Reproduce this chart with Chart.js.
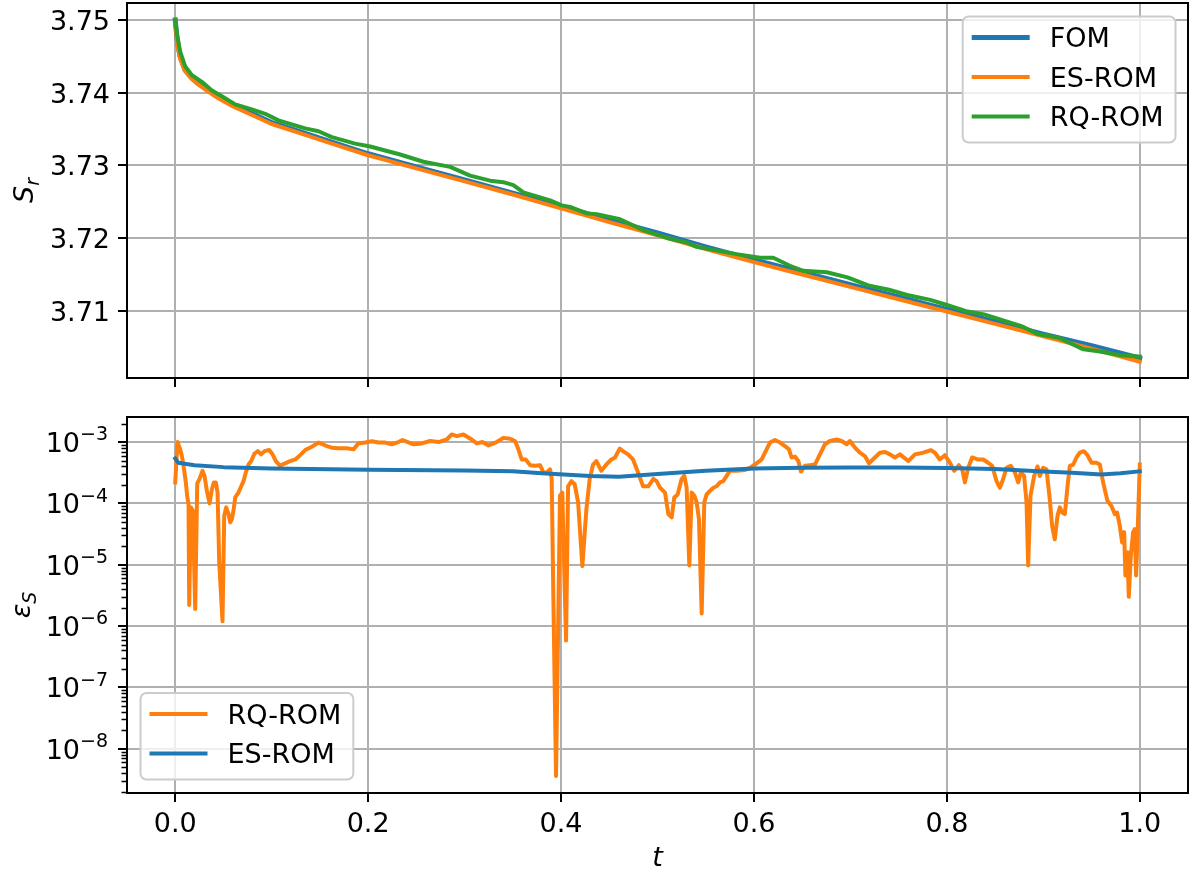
<!DOCTYPE html>
<html>
<head>
<meta charset="utf-8">
<title>Entropy S_r and error</title>
<script src="https://cdn.jsdelivr.net/npm/chart.js@4.4.1/dist/chart.umd.min.js"></script>
<style>
    html, body { margin: 0; padding: 0; background: #fff; }
    #wrap { position: relative; width: 1192px; height: 872px; overflow: hidden; }
    canvas { position: absolute; left: 0; }
    #topChart { top: 0; }
    #bottomChart { top: 400px; }
</style>
</head>
<body>
<div id="wrap">
    <canvas id="topChart" width="1192" height="400"></canvas>
    <canvas id="bottomChart" width="1192" height="472"></canvas>
</div>
<script>
/* ===============================
   DATA
=============================== */
const tTicks = [0, 0.2, 0.4, 0.6, 0.8, 1.0];
const sTicks = [3.71, 3.72, 3.73, 3.74, 3.75];
const errTicks = [1e-8, 1e-7, 1e-6, 1e-5, 1e-4, 1e-3];

// S_r for FOM and ES-ROM (same time samples)
const tRef = [0, 0.002, 0.005, 0.01, 0.017, 0.024, 0.035, 0.045, 0.06, 0.08,
    0.1, 0.13, 0.16, 0.2, 0.25, 0.3, 0.35, 0.4, 0.45, 0.5,
    0.55, 0.6, 0.65, 0.7, 0.75, 0.8, 0.85, 0.9, 0.95, 1.0];
const sFom = [3.7500, 3.7472, 3.7450, 3.7432, 3.7421, 3.7413, 3.7403, 3.7394, 3.7383, 3.7371,
    3.7359, 3.7346, 3.7333, 3.7316, 3.7298, 3.7280, 3.7262, 3.7244, 3.7225, 3.7207,
    3.7188, 3.7170, 3.7153, 3.7136, 3.7119, 3.7102, 3.7085, 3.7068, 3.7052, 3.7035];
const sEs = [3.7499, 3.7467, 3.7447, 3.7430, 3.7419, 3.7411, 3.7401, 3.7392, 3.7381, 3.7369,
    3.7357, 3.7344, 3.7331, 3.7314, 3.7296, 3.7278, 3.7260, 3.7241, 3.7222, 3.7204,
    3.7185, 3.7167, 3.7150, 3.7133, 3.7116, 3.7099, 3.7082, 3.7065, 3.7048, 3.7030];

// S_r for RQ-ROM
const tRq = [0, 0.0017, 0.0052, 0.0104, 0.0173, 0.0276, 0.038, 0.0484, 0.0622, 0.0794,
    0.0933, 0.107, 0.1347, 0.1485, 0.1624, 0.1865, 0.2021, 0.2332, 0.2573, 0.285,
    0.3057, 0.3264, 0.3402, 0.3506, 0.3609, 0.3886, 0.4007, 0.4093, 0.4266, 0.437,
    0.4611, 0.4853, 0.513, 0.5303, 0.5406, 0.582, 0.6062, 0.62, 0.6373, 0.6511,
    0.6755, 0.697, 0.7185, 0.74, 0.7614, 0.7828, 0.8, 0.8215, 0.8386, 0.8773,
    0.8944, 0.9159, 0.9416, 0.9588, 0.9803, 1.0];
const sRq = [3.7500, 3.7482, 3.7456, 3.7436, 3.7424, 3.7415, 3.7403, 3.7395, 3.7384, 3.7377,
    3.7371, 3.7362, 3.7351, 3.7347, 3.7339, 3.7330, 3.7326, 3.7315, 3.7305, 3.7298,
    3.7286, 3.7279, 3.7277, 3.7273, 3.7263, 3.7252, 3.7245, 3.7243, 3.7234, 3.7233,
    3.7226, 3.7211, 3.7199, 3.7194, 3.7188, 3.7178, 3.7173, 3.7173, 3.7162, 3.7155,
    3.7153, 3.7146, 3.7135, 3.7129, 3.7121, 3.7115, 3.7108, 3.7099, 3.7095, 3.7079,
    3.7068, 3.7063, 3.7047, 3.7044, 3.7039, 3.7037];

// error of ES-ROM
const tErrEs = [0, 0.003, 0.02, 0.05, 0.1, 0.2, 0.3, 0.35, 0.38, 0.43,
    0.46, 0.5, 0.55, 0.6, 0.65, 0.7, 0.75, 0.8, 0.85, 0.9,
    0.93, 0.96, 0.98, 1.0];
const errEs = [5.4e-4, 4.6e-4, 4.2e-4, 3.9e-4, 3.7e-4, 3.55e-4, 3.43e-4, 3.35e-4, 3.1e-4, 2.8e-4,
    2.72e-4, 3.0e-4, 3.4e-4, 3.7e-4, 3.8e-4, 3.85e-4, 3.85e-4, 3.77e-4, 3.63e-4, 3.31e-4,
    3.16e-4, 2.97e-4, 3.09e-4, 3.33e-4];

// error of RQ-ROM
const tErrRq = [
    0, 0.0024, 0.0052, 0.0069, 0.0086, 0.011, 0.0124, 0.0138, 0.0145, 0.0162,
    0.0183, 0.0207, 0.0228, 0.0252, 0.0283, 0.0304, 0.0328, 0.0356, 0.038, 0.0401,
    0.0421, 0.0439, 0.0456, 0.049, 0.0508, 0.0528, 0.0553, 0.057, 0.0587, 0.0604,
    0.0622, 0.0656, 0.0684, 0.0708, 0.0732, 0.076, 0.0788, 0.0822, 0.0857, 0.0891,
    0.0926, 0.0974, 0.1009, 0.1043, 0.1088, 0.114, 0.1192, 0.1244, 0.1295, 0.1347,
    0.1416, 0.1485, 0.1527, 0.1572, 0.1623, 0.1693, 0.1779, 0.1848, 0.19, 0.1969,
    0.2038, 0.2107, 0.2176, 0.2245, 0.2314, 0.2356, 0.2411, 0.247, 0.2556, 0.2642,
    0.2729, 0.2815, 0.2867, 0.2919, 0.2988, 0.3074, 0.3126, 0.3185, 0.3247, 0.3333,
    0.3402, 0.3472, 0.3523, 0.3558, 0.3592, 0.3634, 0.3679, 0.3731, 0.3782, 0.3817,
    0.3851, 0.3886, 0.3903, 0.392, 0.3948, 0.3989, 0.4013, 0.4052, 0.4073, 0.4108,
    0.4142, 0.4177, 0.4221, 0.4263, 0.4297, 0.4332, 0.4366, 0.4418, 0.447, 0.4522,
    0.456, 0.4608, 0.4642, 0.4694, 0.4746, 0.4798, 0.485, 0.4905, 0.4957, 0.4991,
    0.5026, 0.5078, 0.5112, 0.5147, 0.5174, 0.5209, 0.525, 0.5278, 0.5302, 0.533,
    0.5354, 0.5382, 0.5406, 0.543, 0.5458, 0.5485, 0.5509, 0.5544, 0.5579, 0.5613,
    0.5648, 0.5682, 0.5717, 0.5751, 0.5821, 0.5907, 0.5959, 0.601, 0.608, 0.6131,
    0.6166, 0.6218, 0.627, 0.6321, 0.6363, 0.639, 0.6425, 0.646, 0.6487, 0.6528,
    0.658, 0.6632, 0.6684, 0.6736, 0.6788, 0.6857, 0.6909, 0.6961, 0.6995, 0.7047,
    0.7098, 0.715, 0.7192, 0.7254, 0.7306, 0.7358, 0.741, 0.7461, 0.7513, 0.76,
    0.7669, 0.7755, 0.7834, 0.7876, 0.7927, 0.7979, 0.8031, 0.8076, 0.8124, 0.8159,
    0.8187, 0.8221, 0.8262, 0.8318, 0.8377, 0.8428, 0.847, 0.8515, 0.8549, 0.8584,
    0.8618, 0.8663, 0.8705, 0.8739, 0.8767, 0.8801, 0.8826, 0.8843, 0.8867, 0.8905,
    0.894, 0.8964, 0.8998, 0.9033, 0.9067, 0.9091, 0.9119, 0.9147, 0.9171, 0.9195,
    0.9223, 0.9251, 0.9275, 0.931, 0.9344, 0.9378, 0.942, 0.9458, 0.95, 0.9551,
    0.9586, 0.962, 0.9665, 0.9706, 0.9741, 0.9765, 0.9793, 0.9817, 0.9838, 0.9851,
    0.9872, 0.9886, 0.9907, 0.9931, 0.9948, 0.9962, 0.998, 1.0];
const errRq = [
    2.2e-4, 1.0e-3, 7.6e-4, 5.9e-4, 4.1e-4, 2.2e-4, 1.3e-4, 9.7e-5, 2.2e-6, 8.6e-5,
    7.6e-5, 1.9e-6, 2.1e-4, 2.5e-4, 3.4e-4, 2.8e-4, 1.6e-4, 1.0e-4, 1.7e-4, 2.2e-4,
    2.2e-4, 1.5e-4, 1.1e-5, 1.2e-6, 6.3e-5, 8.6e-5, 6.7e-5, 4.9e-5, 5.5e-5, 7.6e-5,
    1.25e-4, 1.5e-4, 1.9e-4, 2.3e-4, 3.2e-4, 4.3e-4, 4.9e-4, 6.5e-4, 7.1e-4, 6.3e-4,
    7.1e-4, 7.4e-4, 6.3e-4, 4.9e-4, 4.1e-4, 4.5e-4, 4.9e-4, 5.2e-4, 6.1e-4, 7.4e-4,
    8.4e-4, 9.8e-4, 9.2e-4, 8.6e-4, 8.1e-4, 7.9e-4, 7.9e-4, 7.6e-4, 9.5e-4, 9.8e-4,
    1.03e-3, 9.8e-4, 9.8e-4, 9.2e-4, 1.0e-3, 1.08e-3, 1.0e-3, 9.2e-4, 9.5e-4, 1.04e-3,
    1.0e-3, 1.1e-3, 1.33e-3, 1.25e-3, 1.33e-3, 1.1e-3, 9.5e-4, 1.0e-3, 8.8e-4, 1.0e-3,
    1.17e-3, 1.13e-3, 1.04e-3, 7.6e-4, 5.2e-4, 5.2e-4, 4.2e-4, 4.1e-4, 4.2e-4, 3.2e-4,
    3.2e-4, 3.6e-4, 2.5e-4, 3.2e-6, 3.6e-9, 1.33e-4, 1.5e-4, 5.8e-7, 1.9e-4, 2.3e-4,
    2.05e-4, 1.04e-4, 9.5e-6, 8.1e-5, 2.5e-4, 4.3e-4, 4.9e-4, 3.4e-4, 4.3e-4, 5.2e-4,
    5.6e-4, 7.8e-4, 7.1e-4, 6.3e-4, 5.2e-4, 3.2e-4, 1.9e-4, 1.9e-4, 2.5e-4, 2.3e-4,
    1.8e-4, 1.5e-4, 6.7e-5, 5.9e-5, 1.25e-4, 1.4e-4, 2.5e-4, 2.8e-4, 1.8e-4, 9.7e-6,
    1.5e-4, 1.33e-4, 1.04e-4, 5.5e-5, 1.6e-6, 1.04e-4, 1.4e-4, 1.6e-4, 1.8e-4, 1.9e-4,
    2.2e-4, 2.3e-4, 2.8e-4, 3.4e-4, 3.4e-4, 3.5e-4, 3.8e-4, 4.3e-4, 5.2e-4, 7.6e-4,
    9.8e-4, 1.08e-3, 9.8e-4, 8.6e-4, 7.6e-4, 5.6e-4, 5.8e-4, 4.9e-4, 3.3e-4, 4.1e-4,
    4.2e-4, 4.3e-4, 6.3e-4, 9.2e-4, 1.04e-3, 1.1e-3, 1.04e-3, 9.2e-4, 1.04e-3, 8.1e-4,
    6.7e-4, 5.9e-4, 4.5e-4, 5.6e-4, 6.7e-4, 6.9e-4, 6.3e-4, 5.6e-4, 6.3e-4, 4.9e-4,
    6.3e-4, 6.7e-4, 7.4e-4, 6.7e-4, 5.2e-4, 6.1e-4, 4.6e-4, 3.4e-4, 4.2e-4, 3.6e-4,
    2.2e-4, 3.8e-4, 5.6e-4, 5.2e-4, 5.2e-4, 4.6e-4, 4.1e-4, 2.3e-4, 1.8e-4, 2.5e-4,
    3.8e-4, 4.1e-4, 3.2e-4, 2.2e-4, 3.2e-4, 2.8e-4, 1.04e-4, 9.7e-6, 1.33e-4, 2.8e-4,
    4.0e-4, 2.8e-4, 3.8e-4, 3.6e-4, 1.17e-4, 4.3e-5, 2.6e-5, 6.3e-5, 8.6e-5, 7.1e-5,
    6.7e-5, 1.9e-4, 4.1e-4, 4.3e-4, 5.6e-4, 6.7e-4, 7.1e-4, 6.1e-4, 4.6e-4, 4.6e-4,
    4.3e-4, 2.2e-4, 1.1e-4, 9.1e-5, 6.7e-5, 7.1e-5, 4.3e-5, 2.3e-5, 3.4e-5, 6.7e-6,
    1.6e-5, 3.0e-6, 1.4e-5, 3.4e-5, 3.8e-5, 6.7e-6, 4.3e-5, 4.3e-4];

/* ===============================
   STYLE
=============================== */
const BLUE = "#1f77b4";
const ORANGE = "#ff7f0e";
const GREEN = "#2ca02c";
const FONT = "'DejaVu Sans'";
const FS = 27;
const GRID = "#b0b0b0";

Chart.defaults.font.family = FONT;
Chart.defaults.font.size = FS;
Chart.defaults.color = "#000";

function pairs(xs, ys) {
    return xs.map((x, i) => ({ x: x, y: ys[i] }));
}

function series(label, xs, ys, color, width, order) {
    return {
        label: label,
        data: pairs(xs, ys),
        borderColor: color,
        backgroundColor: color,
        borderWidth: width,
        pointRadius: 0,
        tension: 0,
        fill: false,
        borderCapStyle: "square",
        borderJoinStyle: "round",
        order: order
    };
}

function gridOpts() {
    return { color: GRID, lineWidth: 2, tickLength: 9, tickColor: "#000", tickWidth: 2 };
}

function tAxis(showLabels, height) {
    return {
        type: "linear",
        min: -0.05,
        max: 1.05,
        afterBuildTicks: s => { s.ticks = tTicks.map(v => ({ value: v })); },
        afterFit: s => { s.height = height; },
        ticks: {
            display: showLabels,
            padding: 7,
            maxRotation: 0,
            autoSkip: false,
            callback: v => v.toFixed(1)
        },
        grid: gridOpts(),
        border: { display: false }
    };
}

/* ===============================
   DRAW HELPERS
=============================== */
// pieces of text with size / italic / vertical shift, left to right
function textRun(c, parts, x, y) {
    let cx = x;
    parts.forEach(p => {
        c.font = (p.italic ? "italic " : "") + p.size + "px " + FONT;
        c.fillText(p.text, cx, y + (p.dy || 0));
        cx += c.measureText(p.text).width + (p.gap || 0);
    });
}

function runWidth(c, parts) {
    let w = 0;
    parts.forEach(p => {
        c.font = (p.italic ? "italic " : "") + p.size + "px " + FONT;
        w += c.measureText(p.text).width + (p.gap || 0);
    });
    return w;
}

function drawYTitle(chart, parts, baseX) {
    const c = chart.ctx, a = chart.chartArea;
    c.save();
    c.fillStyle = "#000";
    c.textBaseline = "alphabetic";
    c.translate(baseX, (a.top + a.bottom) / 2);
    c.rotate(-Math.PI / 2);
    textRun(c, parts, -runWidth(c, parts) / 2, 0);
    c.restore();
}

function drawLegend(chart, items, corner) {
    const c = chart.ctx, a = chart.chartArea;
    c.save();
    c.font = FS + "px " + FONT;
    const tw = Math.max(...items.map(it => c.measureText(it.label).width));
    const w = 9 + 58 + 20 + tw + 12;
    const h = 21 + (items.length - 1) * 39.5 + 26;
    const x = corner === "ne" ? a.right - 12.5 - w : a.left + 13.5;
    const y = corner === "ne" ? a.top + 13.5 : a.bottom - 13.5 - h;

    c.beginPath();
    c.roundRect(x, y, w, h, 6);
    c.fillStyle = "rgba(255,255,255,0.8)";
    c.fill();
    c.strokeStyle = "#cccccc";
    c.lineWidth = 2;
    c.stroke();

    items.forEach((it, i) => {
        const ry = y + 21 + i * 39.5;
        c.beginPath();
        c.moveTo(x + 9, ry);
        c.lineTo(x + 67, ry);
        c.strokeStyle = it.color;
        c.lineWidth = it.width;
        c.lineCap = "butt";
        c.stroke();
        c.fillStyle = "#000";
        c.textBaseline = "alphabetic";
        c.fillText(it.label, x + 87, ry + 0.365 * FS);
    });
    c.restore();
}

/* ===============================
   PLUGINS
=============================== */
const framePlugin = {
    id: "frame",
    afterDatasetsDraw(chart) {
        const c = chart.ctx, a = chart.chartArea;
        c.save();
        c.strokeStyle = "#000";
        c.lineWidth = 2;
        c.strokeRect(a.left, a.top, a.right - a.left, a.bottom - a.top);
        c.restore();
    }
};

const topDecor = {
    id: "topDecor",
    afterDraw(chart) {
        const c = chart.ctx, a = chart.chartArea, s = chart.scales.y;

        // y tick labels
        c.save();
        c.fillStyle = "#000";
        c.font = FS + "px " + FONT;
        c.textAlign = "right";
        c.textBaseline = "alphabetic";
        sTicks.forEach(v => {
            c.fillText(v.toFixed(2), a.left - 17, s.getPixelForValue(v) + 0.365 * FS);
        });
        c.restore();

        drawYTitle(chart, [
            { text: "S", size: FS, italic: true },
            { text: "r", size: Math.round(FS * 0.7), italic: true, dy: 6 }
        ], 33);
        drawLegend(chart, [
            { label: "FOM", color: BLUE, width: 5 },
            { label: "ES-ROM", color: ORANGE, width: 4 },
            { label: "RQ-ROM", color: GREEN, width: 4 }
        ], "ne");
    }
};

const bottomDecor = {
    id: "bottomDecor",
    afterDraw(chart) {
        const c = chart.ctx, a = chart.chartArea, s = chart.scales.y;
        c.save();

        // minor log ticks
        c.strokeStyle = "#000";
        c.lineWidth = 1.6;
        c.beginPath();
        for (let e = -10; e <= -3; e++) {
            for (let m = 2; m <= 9; m++) {
                const v = m * Math.pow(10, e);
                if (v < s.min || v > s.max) continue;
                const py = Math.round(s.getPixelForValue(v)) + 0.5;
                c.moveTo(a.left, py);
                c.lineTo(a.left - 5.5, py);
            }
        }
        c.stroke();

        // decade labels 10^k
        c.fillStyle = "#000";
        c.textBaseline = "alphabetic";
        const supSize = Math.round(FS * 0.7);
        errTicks.forEach(v => {
            const py = s.getPixelForValue(v);
            const parts = [
                { text: "10", size: FS },
                { text: "\u2212" + Math.abs(Math.round(Math.log10(v))), size: supSize, dy: -0.43 * FS }
            ];
            const w = runWidth(c, parts);
            textRun(c, parts, a.left - 19 - w, py + 0.365 * FS);
        });
        c.restore();

        drawYTitle(chart, [
            { text: "\u03b5", size: FS, italic: true },
            { text: "S", size: Math.round(FS * 0.7), italic: true, dy: 6 }
        ], 30);

        // x axis title
        c.save();
        c.fillStyle = "#000";
        c.textAlign = "center";
        c.textBaseline = "alphabetic";
        c.font = "italic " + FS + "px " + FONT;
        c.fillText("t", (a.left + a.right) / 2, 466);
        c.restore();

        drawLegend(chart, [
            { label: "RQ-ROM", color: ORANGE, width: 4 },
            { label: "ES-ROM", color: BLUE, width: 4 }
        ], "sw");
    }
};

/* ===============================
   TOP CHART: S_r
=============================== */
new Chart(document.getElementById("topChart"), {
    type: "line",
    data: {
        datasets: [
            series("FOM", tRef, sFom, BLUE, 5, 3),
            series("ES-ROM", tRef, sEs, ORANGE, 4, 2),
            series("RQ-ROM", tRq, sRq, GREEN, 4, 1)
        ]
    },
    options: {
        responsive: false,
        animation: false,
        devicePixelRatio: 1,
        events: [],
        layout: { padding: { top: 3, right: 4, left: 0, bottom: 0 } },
        plugins: { legend: { display: false }, tooltip: { enabled: false } },
        scales: {
            x: tAxis(false, 22),
            y: {
                type: "linear",
                min: 3.70076,
                max: 3.75234,
                afterBuildTicks: s => { s.ticks = sTicks.map(v => ({ value: v })); },
                afterFit: s => { s.width = 127; },
                ticks: { display: false },
                grid: gridOpts(),
                border: { display: false }
            }
        }
    },
    plugins: [framePlugin, topDecor]
});

/* ===============================
   BOTTOM CHART: error (log)
=============================== */
new Chart(document.getElementById("bottomChart"), {
    type: "line",
    data: {
        datasets: [
            series("RQ-ROM", tErrRq, errRq, ORANGE, 4, 2),
            series("ES-ROM", tErrEs, errEs, BLUE, 4, 1)
        ]
    },
    options: {
        responsive: false,
        animation: false,
        devicePixelRatio: 1,
        events: [],
        layout: { padding: { top: 17, right: 4, left: 0, bottom: 0 } },
        plugins: { legend: { display: false }, tooltip: { enabled: false } },
        scales: {
            x: tAxis(true, 79),
            y: {
                type: "logarithmic",
                min: 1.9e-9,
                max: 2.56e-3,
                afterBuildTicks: s => { s.ticks = errTicks.map(v => ({ value: v })); },
                afterFit: s => { s.width = 127; },
                ticks: { display: false },
                grid: gridOpts(),
                border: { display: false }
            }
        }
    },
    plugins: [framePlugin, bottomDecor]
});
</script>
</body>
</html>
